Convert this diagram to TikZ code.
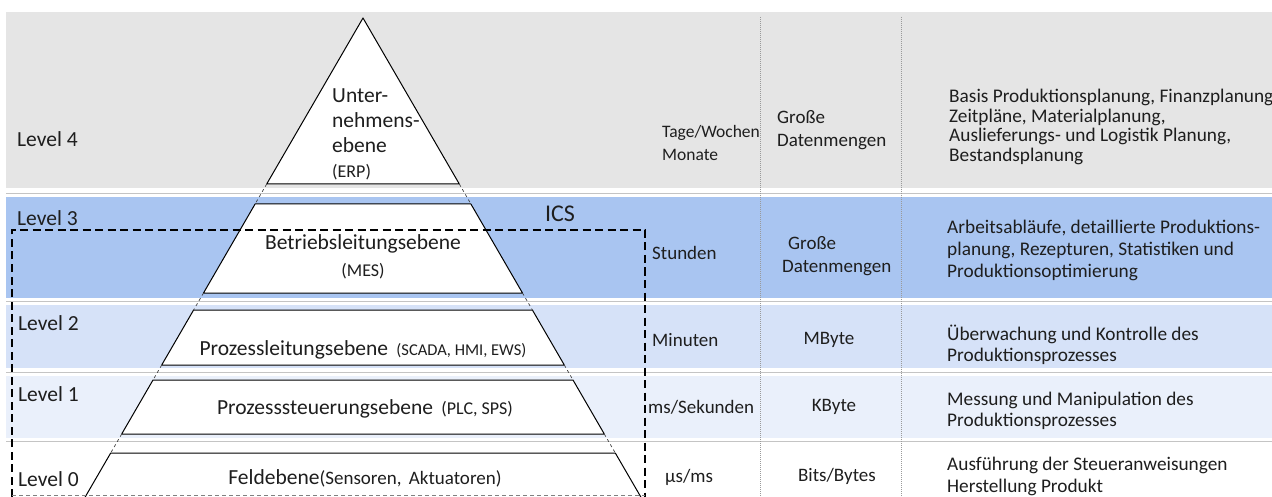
\documentclass[tikz,border=0pt]{standalone}
\usepackage{fontspec}
\setmainfont{Carlito}
\newcommand\myfs[2]{\fontsize{#1}{#2}\selectfont}
\definecolor{bandgray}{HTML}{E5E5E5}
\definecolor{bandblue}{HTML}{A9C5F1}
\definecolor{bandmid}{HTML}{D6E2F8}
\definecolor{bandlight}{HTML}{EAF0FB}
\definecolor{sepgray}{HTML}{C4C4C4}
\definecolor{dotgray}{HTML}{9A9A9A}
\definecolor{txt}{HTML}{1E1E1E}
\tikzset{
  band4/.style={fill=bandgray},
  band3/.style={fill=bandblue},
  band2/.style={fill=bandmid},
  band1/.style={fill=bandlight},
  sepline/.style={draw=sepgray, line width=0.8pt},
  colline/.style={draw=dotgray, line width=0.9pt, dash pattern=on 1pt off 1pt},
  pyr/.style={draw=black, fill=white, line width=1pt, line join=round},
  ext/.style={draw=black!75, line width=0.7pt, dash pattern=on 3pt off 3pt},
  icsbox/.style={draw=black, line width=2.5pt, dash pattern=on 8pt off 4.5pt},
  lbl/.style={anchor=west, inner sep=0pt, text=txt, font=\myfs{21.5}{25}},
  ptxt/.style={inner sep=0pt, text=txt, font=\myfs{21.5}{25}, align=center},
  ctxt/.style={anchor=west, inner sep=0pt, text=txt, font=\myfs{19}{23}, align=left},
  mtxt/.style={inner sep=0pt, text=txt, font=\myfs{19}{23}, align=center},
  dtxt/.style={anchor=west, inner sep=0pt, text=txt, align=left},
}
\begin{document}
\begin{tikzpicture}[x=1pt,y=-1pt]
\useasboundingbox (0,0) rectangle (1272,497);
\clip (0,0) rectangle (1272,497);
\fill[white] (0,0) rectangle (1272,497);
% bands
\fill[band4] (6,12) rectangle (1272,188);
\fill[band3] (6,197) rectangle (1272,298);
\fill[band2] (6,305) rectangle (1272,368);
\fill[band1] (6,376) rectangle (1272,438);
\draw[sepline] (6,193.5) -- (1272,193.5);
\draw[sepline] (6,301.5) -- (1272,301.5);
\draw[sepline] (6,372) -- (1272,372);
\draw[sepline] (6,441.5) -- (1272,441.5);
% column separators
\coordinate (c1t) at (760,17); \coordinate (c1b) at (760,497);
\coordinate (c2t) at (901,17); \coordinate (c2b) at (901,497);
\draw[colline] (c1t) -- (c1b);
\draw[colline] (c2t) -- (c2b);
% pyramid corners
\coordinate (apex) at (363,18);
\coordinate (t4l) at (266.7,184); \coordinate (t4r) at (459.3,184);
\coordinate (a3l) at (255.1,204); \coordinate (a3r) at (470.9,204);
\coordinate (b3l) at (203.5,293); \coordinate (b3r) at (522.5,293);
\coordinate (a2l) at (193.6,310); \coordinate (a2r) at (532.4,310);
\coordinate (b2l) at (161.7,365); \coordinate (b2r) at (564.3,365);
\coordinate (a1l) at (153,380);   \coordinate (a1r) at (573,380);
\coordinate (b1l) at (121.7,434); \coordinate (b1r) at (604.3,434);
\coordinate (a0l) at (110.7,453); \coordinate (a0r) at (615.3,453);
\coordinate (b0l) at (81.1,504);  \coordinate (b0r) at (644.9,504);
\draw[pyr] (apex) -- (t4r) -- (t4l) -- cycle;
\draw[pyr] (a3l) -- (a3r) -- (b3r) -- (b3l) -- cycle;
\draw[pyr] (a2l) -- (a2r) -- (b2r) -- (b2l) -- cycle;
\draw[pyr] (a1l) -- (a1r) -- (b1r) -- (b1l) -- cycle;
\draw[pyr] (a0l) -- (a0r) -- (b0r) -- (b0l) -- cycle;
\draw[ext] (t4l) -- (a3l); \draw[ext] (t4r) -- (a3r);
\draw[ext] (b3l) -- (a2l); \draw[ext] (b3r) -- (a2r);
\draw[ext] (b2l) -- (a1l); \draw[ext] (b2r) -- (a1r);
\draw[ext] (b1l) -- (a0l); \draw[ext] (b1r) -- (a0r);
% pyramid texts
\node[ptxt, anchor=west, align=left] (p4) at (332,134) {Unter-\\nehmens-\\ebene\\{\myfs{18}{25}(ERP)}};
\node[ptxt] (p3) at (363,244) {Betriebsleitungsebene};
\node[ptxt] (p3s) at (363,271) {\myfs{18}{20}(MES)};
\node[ptxt] (p2) at (363,350) {Prozessleitungsebene\, {\myfs{16.5}{18}(SCADA, HMI, EWS)}};
\node[ptxt] (p1) at (365,409) {Prozesssteuerungsebene\, {\myfs{18}{18}(PLC, SPS)}};
\node[ptxt] (p0) at (365,478) {Feldebene{\myfs{19}{18}(Sensoren,\, Aktuatoren)}};
% level labels
\node[lbl] (l4) at (17,139) {Level 4};
\node[lbl] (l3) at (17,218) {Level 3};
\node[lbl] (l2) at (18,323) {Level 2};
\node[lbl] (l1) at (18,394) {Level 1};
\node[lbl] (l0) at (18,479) {Level 0};
% ICS box
\coordinate (ibl) at (12,497); \coordinate (itl) at (12,230);
\coordinate (itr) at (645,230); \coordinate (ibr) at (645,497);
\draw[icsbox] (ibl) -- (itl) -- (itr) -- (ibr);
\coordinate (gbl) at (12,495.5); \coordinate (gbr) at (645,495.5);
\draw[draw=gray, line width=0.6pt, dash pattern=on 4pt off 3pt] (gbl) -- (gbr);
\node[inner sep=0pt, text=txt, font=\myfs{24}{26}] (ics) at (560,214) {ICS};
% time column
\node[ctxt, font=\myfs{17.5}{23}] (t4) at (662,143) {Tage/Wochen\\Monate};
\node[ctxt] (t3) at (652,253) {Stunden};
\node[ctxt] (t2) at (652,340) {Minuten};
\node[ctxt] (t1) at (648,407) {ms/Sekunden};
\node[ctxt] (t0) at (665,477) {µs/ms};
% data column
\node[ctxt] (d4) at (777,130) {Große\\Datenmengen};
\node[ctxt] (d3) at (782,256) {\hspace*{6pt}Große\\Datenmengen};
\node[mtxt] (d2) at (829,340) {MByte};
\node[mtxt] (d1) at (834,407) {KByte};
\node[mtxt] (d0) at (837,476) {Bits/Bytes};
% description column
\node[dtxt, font=\myfs{19.3}{19.5}] (e4) at (949,127) {Basis Produktionsplanung, Finanzplanung\\Zeitpläne, Materialplanung,\\Auslieferungs- und Logistik Planung,\\Bestandsplanung};
\node[dtxt, font=\myfs{19.3}{22}] (e3) at (947,250) {Arbeitsabläufe, detaillierte Produktions-\\planung, Rezepturen, Statistiken und\\Produktionsoptimierung};
\node[dtxt, font=\myfs{19.3}{21.5}] (e2) at (947,345) {Überwachung und Kontrolle des\\Produktionsprozesses};
\node[dtxt, font=\myfs{19.3}{21.5}] (e1) at (947,411) {Messung und Manipulation des\\Produktionsprozesses};
\node[dtxt, font=\myfs{19.3}{21.5}] (e0) at (947,476.5) {Ausführung der Steueranweisungen\\Herstellung Produkt};
\end{tikzpicture}
\end{document}
